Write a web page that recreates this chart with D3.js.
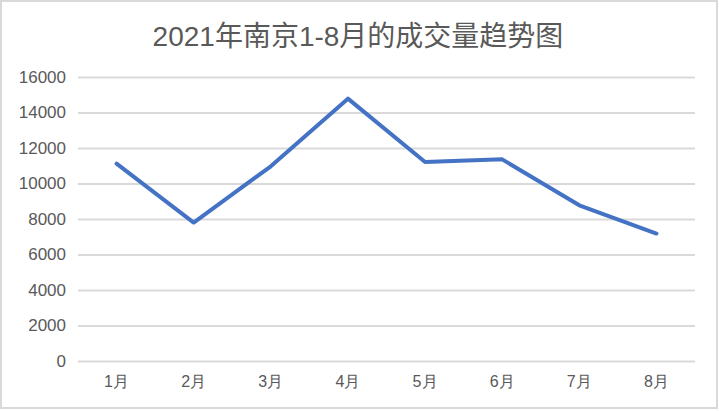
<!DOCTYPE html>
<html>
<head>
<meta charset="utf-8">
<script src="https://cdn.jsdelivr.net/npm/d3@7"></script>
<style>
  html, body { margin: 0; padding: 0; background: #fff; }
  svg { display: block; font-family: "Liberation Sans", "Noto Sans CJK SC", sans-serif; }
</style>
</head>
<body>
<svg id="chart"></svg>
<script>
var title = "2021年南京1-8月的成交量趋势图";
var months = ["1月", "2月", "3月", "4月", "5月", "6月", "7月", "8月"];
var volumes = [11120, 7800, 10970, 14780, 11210, 11360, 8770, 7180];
var yTicks = [0, 2000, 4000, 6000, 8000, 10000, 12000, 14000, 16000];

var width = 719, height = 411;
var margin = {top: 77, right: 24, bottom: 50, left: 78};

var svg = d3.select("#chart").attr("width", width).attr("height", height);

svg.append("rect").attr("x", 1).attr("y", 1).attr("width", width - 3).attr("height", height - 4)
  .attr("fill", "#fff").attr("stroke", "#d9d9d9").attr("stroke-width", 2);

var x = d3.scaleBand().domain(months).range([margin.left, width - margin.right]);
var y = d3.scaleLinear().domain([0, 16000]).range([height - margin.bottom, margin.top]);

// gridlines + y labels
var yAxis = svg.append("g").attr("transform", "translate(" + margin.left + ",0)")
  .call(d3.axisLeft(y).tickValues(yTicks).tickFormat(d3.format("d"))
    .tickSize(-(width - margin.left - margin.right)).tickPadding(12));
yAxis.select(".domain").remove();
yAxis.selectAll(".tick line").attr("stroke", "#d9d9d9").attr("stroke-width", 2);
yAxis.selectAll(".tick text").attr("fill", "#595959").attr("font-size", 17);

var xAxis = svg.append("g").attr("transform", "translate(0," + (height - margin.bottom) + ")")
  .call(d3.axisBottom(x).tickSize(0).tickPadding(15));
xAxis.select(".domain").remove();
xAxis.selectAll(".tick text").attr("fill", "#595959").attr("font-size", 16);

var line = d3.line()
  .x(function(d, i){ return x(months[i]) + x.bandwidth() / 2; })
  .y(function(d){ return y(d); });

svg.append("path").datum(volumes).attr("d", line)
  .attr("fill", "none").attr("stroke", "#4472c4").attr("stroke-width", 4)
  .attr("stroke-linejoin", "round").attr("stroke-linecap", "round");

svg.append("text").attr("x", 358).attr("y", 46).attr("text-anchor", "middle")
  .attr("fill", "#595959").attr("font-size", 28).text(title);
</script>
</body>
</html>
